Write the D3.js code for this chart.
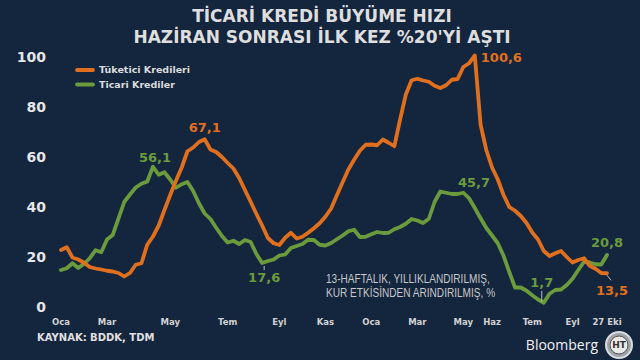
<!DOCTYPE html>
<html>
<head>
<meta charset="utf-8">
<script src="https://cdn.jsdelivr.net/npm/d3@7"></script>
<style>
  body { margin: 0; background: #14253e; }
  svg { display: block; }
  .title { font-family: "DejaVu Sans", sans-serif; font-weight: bold; fill: #dedede; }
  .ytick { font-family: "DejaVu Sans", sans-serif; font-weight: bold; fill: #e6e6e6; font-size: 14px; }
  .xtick { font-family: "DejaVu Sans", sans-serif; font-weight: bold; fill: #d2d2d2; font-size: 8.5px; }
  .legend { font-family: "DejaVu Sans", sans-serif; font-weight: bold; fill: #dcdcdc; font-size: 9.5px; }
  .label { font-family: "DejaVu Sans", sans-serif; font-weight: bold; font-size: 13px; }
  .note { font-family: "Liberation Sans", sans-serif; fill: #c8c8c8; font-size: 12px; }
  .source { font-family: "DejaVu Sans", sans-serif; font-weight: bold; fill: #e0e0e0; font-size: 10px; }
  .line { fill: none; stroke-width: 3.8; stroke-linejoin: round; stroke-linecap: round; }
</style>
</head>
<body>
<div id="chart"></div>
<script>
// weekly, Oca 2021 -> 27 Eki 2022 (13-week annualised growth, %)
var consumer = [22.8, 23.9, 19.8, 19, 17.7, 16, 15.4, 15, 14.5, 14.2, 13.6, 12.2, 13.6, 16.9, 17.5, 24.9,
    28.2, 32.6, 38.8, 44.8, 50.5, 55.8, 62.3, 63.8, 66, 67.1, 63, 62, 60, 57.6, 55.4, 51.6,
    46.8, 42.1, 37.2, 32.6, 27.6, 25.5, 24.8, 27.7, 29.7, 27.4, 28.1, 29.7, 31.5, 33.5, 36.1, 39.4,
    44.7, 49.9, 55, 58.9, 62.5, 64.9, 65, 64.7, 67, 65.7, 64.3, 75, 85, 90.7, 91.3, 90.6,
    90.1, 88.5, 87.6, 88.7, 90.9, 91.2, 96, 97.5, 100.6, 73, 62.8, 55.8, 51, 44.8, 40, 38.5,
    36.4, 33.6, 29.8, 27, 22.4, 20.4, 21.5, 22.4, 20, 17.8, 18.8, 19.5, 16.5, 15.3, 13.6, 13.5];

var commercial = [14.8, 15.5, 17.5, 15.6, 17.3, 19.5, 22.7, 21.9, 27, 28.8, 35.4, 42, 45, 47.8, 49.3, 50.2,
    56.1, 52.9, 53.9, 51, 47.7, 49.1, 50, 46.4, 41.5, 37.4, 35.2, 31.7, 28.4, 25.8, 26.5, 25.2,
    26.8, 26, 21.2, 17.6, 18.4, 19, 20.6, 21, 23.6, 24.4, 25.2, 26.9, 26.8, 24.9, 24.6, 25.6,
    27.1, 28.6, 30.3, 30.9, 28, 28.1, 29.1, 30, 29.6, 29.7, 31.1, 32, 33.3, 35.2, 34.6, 33.6,
    35.3, 42, 46.2, 45.7, 45.2, 45.2, 45.7, 43.5, 39.6, 35.5, 31.6, 28.6, 25.5, 20.5, 14, 7.8,
    7.8, 6.5, 4.7, 3, 1.7, 5.3, 6.8, 7, 8.8, 11.3, 14.8, 18.1, 17.8, 17.1, 17, 20.8];

var tickIndex = [0, 8, 19, 29, 38, 46, 54, 62, 70, 75, 82, 89, 95];
var tickLabels = ["Oca", "Mar", "May", "Tem", "Eyl", "Kas", "Oca", "Mar", "May", "Haz", "Tem", "Eyl", "27 Eki"];
var yTicks = [0, 20, 40, 60, 80, 100];

var seriesNames = ["Tüketici Kredileri", "Ticari Krediler"];
var colors = ["#e0701d", "#6b9b3c"];
var noteLines = ["13-HAFTALIK, YILLIKLANDIRILMIŞ,", "KUR ETKİSİNDEN ARINDIRILMIŞ, %"];

var width = 640, height = 360;
var margin = {top: 57, right: 33, bottom: 53, left: 61};

var svg = d3.select("#chart").append("svg")
    .attr("width", width)
    .attr("height", height);

svg.append("rect")
    .attr("width", width).attr("height", height)
    .attr("fill", "#14253e");

var x = d3.scaleLinear().domain([0, consumer.length - 1]).range([margin.left, width - margin.right]);
var y = d3.scaleLinear().domain([0, 100]).range([height - margin.bottom, margin.top]);

// title
svg.append("text").attr("class", "title")
    .attr("x", 322).attr("y", 22)
    .attr("text-anchor", "middle").style("font-size", "17px")
    .text("TİCARİ KREDİ BÜYÜME HIZI");
svg.append("text").attr("class", "title")
    .attr("x", 322).attr("y", 43)
    .attr("text-anchor", "middle").style("font-size", "17px")
    .text("HAZİRAN SONRASI İLK KEZ %20'Yİ AŞTI");

// y axis labels
svg.selectAll(".ytick")
    .data(yTicks)
    .enter()
    .append("text")
    .attr("class", "ytick")
    .attr("x", 46)
    .attr("y", function(d) { return y(d); })
    .attr("dy", "0.36em")
    .attr("text-anchor", "end")
    .text(function(d) { return d; });

// x axis labels
svg.selectAll(".xtick")
    .data(tickIndex)
    .enter()
    .append("text")
    .attr("class", "xtick")
    .attr("x", function(d) { return x(d); })
    .attr("y", 325)
    .attr("text-anchor", "middle")
    .text(function(d, i) { return tickLabels[i]; });

var valueline = d3.line()
    .x(function(d, i) { return x(i); })
    .y(function(d) { return y(d); });

svg.selectAll(".line")
    .data([commercial, consumer])
    .enter()
    .append("path")
    .attr("class", "line")
    .attr("stroke", function(d, i) { return i == 0 ? colors[1] : colors[0]; })
    .attr("d", valueline);

// legend
var legend = svg.selectAll(".lg")
    .data(seriesNames)
    .enter()
    .append("g")
    .attr("transform", function(d, i) { return "translate(77," + (70 + i * 14.5) + ")"; });
legend.append("line")
    .attr("x1", 0).attr("x2", 16)
    .attr("stroke", function(d, i) { return colors[i]; })
    .attr("stroke-width", 3.8)
    .attr("stroke-linecap", "round");
legend.append("text")
    .attr("class", "legend")
    .attr("x", 22).attr("dy", "0.35em")
    .text(function(d) { return d; });

// value labels
var fmt = function(v) { return String(v).replace(".", ","); };
var labels = [
    {s: consumer, i: 25, dx: 0, dy: -7, anchor: "middle", c: colors[0]},
    {s: consumer, i: 72, dx: 6, dy: 6, anchor: "start", c: colors[0]},
    {s: consumer, i: 95, dx: 5, dy: 22, anchor: "middle", c: colors[0]},
    {s: commercial, i: 16, dx: 2, dy: -5, anchor: "middle", c: colors[1]},
    {s: commercial, i: 35, dx: 2, dy: 19, anchor: "middle", c: colors[1]},
    {s: commercial, i: 67, dx: 28, dy: -6, anchor: "middle", c: colors[1]},
    {s: commercial, i: 84, dx: -2, dy: -16, anchor: "middle", c: colors[1]},
    {s: commercial, i: 95, dx: 0, dy: -8, anchor: "middle", c: colors[1]}
];
svg.selectAll(".label")
    .data(labels)
    .enter()
    .append("text")
    .attr("class", "label")
    .attr("x", function(d) { return x(d.i) + d.dx; })
    .attr("y", function(d) { return y(d.s[d.i]) + d.dy; })
    .attr("text-anchor", function(d) { return d.anchor; })
    .attr("fill", function(d) { return d.c; })
    .text(function(d) { return fmt(d.s[d.i]); });

// small leader marks
svg.append("line")
    .attr("x1", x(35) + 2).attr("x2", x(35) + 2)
    .attr("y1", y(17.6) + 3).attr("y2", y(17.6) + 7)
    .attr("stroke", "#b9bec6").attr("stroke-width", 1);
svg.append("line")
    .attr("x1", x(84) - 2).attr("x2", x(84) - 2)
    .attr("y1", y(1.7) - 12).attr("y2", y(1.7) - 1)
    .attr("stroke", "#b9bec6").attr("stroke-width", 1);
svg.append("line")
    .attr("x1", x(95)).attr("x2", x(95) + 4)
    .attr("y1", y(13.5) + 2).attr("y2", y(13.5) + 7)
    .attr("stroke", "#b9bec6").attr("stroke-width", 1);

// note, horizontally squeezed (condensed face in the original)
svg.selectAll(".note")
    .data(noteLines)
    .enter()
    .append("g")
    .attr("transform", function(d, i) { return "translate(326," + (283 + i * 14) + ") scale(0.84,1)"; })
    .append("text")
    .attr("class", "note")
    .text(function(d) { return d; });

// source + logo
svg.append("text").attr("class", "source")
    .attr("x", 37).attr("y", 341)
    .text("KAYNAK: BDDK, TDM");

svg.append("text")
    .attr("x", 598).attr("y", 350)
    .attr("text-anchor", "end")
    .style("font-family", "'Open Sans', sans-serif")
    .style("font-size", "14px")
    .attr("fill", "#f2f2f2")
    .text("Bloomberg");

var logo = svg.append("g").attr("transform", "translate(619,345)");
logo.append("circle").attr("r", 13).attr("fill", "#9ea3a8").attr("stroke", "#d9dcdf").attr("stroke-width", 2);
logo.append("circle").attr("r", 9).attr("fill", "#e9e9e9").attr("stroke", "#555").attr("stroke-width", 1);
logo.append("text")
    .attr("text-anchor", "middle").attr("dy", "0.35em")
    .style("font-family", "'DejaVu Sans', sans-serif").style("font-weight", "bold").style("font-size", "9px")
    .attr("fill", "#333")
    .text("HT");
</script>
</body>
</html>
